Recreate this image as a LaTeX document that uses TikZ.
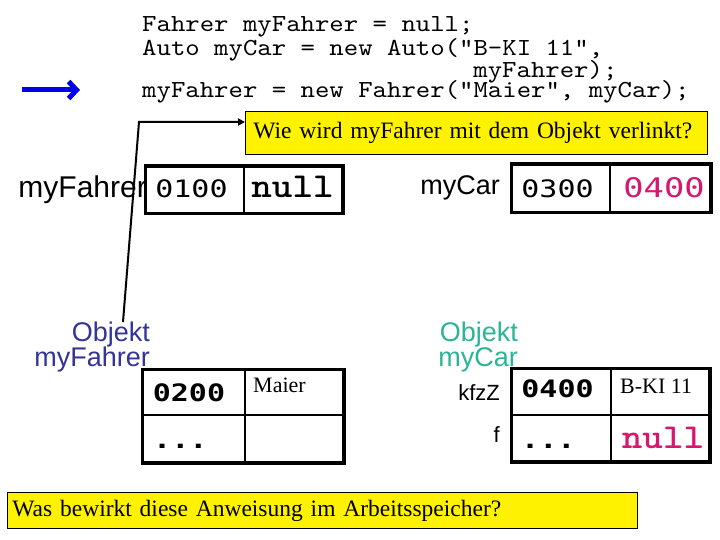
\documentclass[tikz,border=0pt]{standalone}
\usepackage{fontspec}
\setmainfont{Liberation Serif}
\newfontfamily\numfont[FakeStretch=1.25]{DejaVu Sans Mono}
\newfontfamily\labfont{Liberation Sans}
\newfontfamily\codefont[FakeStretch=1.12]{lmmono10-regular.otf}
\newfontfamily\nulfnt[FakeStretch=1.12]{lmmonolt10-bold.otf}
\usetikzlibrary{arrows.meta}
\definecolor{mag}{RGB}{214,24,110}
\definecolor{objblue}{RGB}{51,51,153}
\definecolor{objteal}{RGB}{43,181,150}
\definecolor{arrblue}{RGB}{0,0,235}
\begin{document}
\begin{tikzpicture}[x=1pt,y=-1pt,
  code/.style={anchor=base west, inner sep=0, font=\codefont\fontsize{24.5}{24.5}\selectfont},
  cell/.style={draw, line width=2pt, inner sep=0},
  outer/.style={draw, line width=3pt},
  num/.style={anchor=base, inner sep=0, font=\numfont\fontsize{24}{24}\selectfont},
  bnum/.style={anchor=base, inner sep=0, font=\numfont\bfseries\fontsize{24}{24}\selectfont},
  nul/.style={anchor=base, inner sep=0, text=mag, font=\nulfnt\fontsize{35}{35}\selectfont},
  lab/.style={anchor=mid east, inner sep=0, font=\labfont\fontsize{27}{27}\selectfont},
  small/.style={anchor=base west, inner sep=0, font=\fontsize{22}{22}\selectfont},
  question/.style={draw=black, line width=0.8pt, fill=yellow, anchor=north west, align=left, font=\fontsize{23.5}{23.5}\selectfont}
]
\useasboundingbox (0,0) rectangle (720,540);

% code
\node[code] (l1) at (142,32) {Fahrer myFahrer = null;};
\node[code] (l2) at (142,56) {Auto myCar = new Auto("B-KI 11",};
\node[code] (l3) at (473.2,78) {myFahrer);};
\node[code] (l4) at (142,98) {myFahrer = new Fahrer("Maier", myCar);};

% blue arrow
\coordinate (ba) at (22,90);
\coordinate (bb) at (80,90);
\draw[arrblue, line width=5pt, -{Straight Barb[length=8pt,width=17pt,line width=5pt]}] (ba) -- (bb);

% question 1
\node[question, text width=446, inner xsep=8, minimum height=43] (q1) at (245,111) {\makebox[446pt][l]{Wie wird myFahrer mit dem Objekt verlinkt?}};

% variable myFahrer
\node[cell, minimum width=98, minimum height=46] (a1) at (195,190) {};
\node[cell, minimum width=98, minimum height=46] (a2) at (293,190) {};
\draw[outer] (a1.north west) rectangle (a2.south east);
\node[num] (t0100) at (191.5,198) {0100};
\node[nul, text=black] (tnull1) at (292.5,198) {null};
\node[lab, font=\labfont\fontsize{30}{30}\selectfont] (lfahrer) at (147,195) {myFahrer};

% variable myCar
\node[cell, minimum width=98, minimum height=47] (b1) at (561,188.5) {};
\node[cell, minimum width=100, minimum height=47] (b2) at (660,188.5) {};
\draw[outer] (b1.north west) rectangle (b2.south east);
\node[num] (t0300) at (557.5,197) {0300};
\node[num, text=mag, font=\numfont\fontsize{27}{27}\selectfont] (t0400a) at (664,198) {0400};
\node[lab] (lcar) at (500,192) {myCar};

% object myFahrer
\node[lab, text=objblue] (of1) at (150,339) {Objekt};
\node[lab, text=objblue] (of2) at (150,364) {myFahrer};
\node[cell, minimum width=102, minimum height=45] (c11) at (194,392.5) {};
\node[cell, minimum width=98, minimum height=45] (c12) at (294,392.5) {};
\node[cell, minimum width=102, minimum height=47] (c21) at (194,438.5) {};
\node[cell, minimum width=98, minimum height=47] (c22) at (294,438.5) {};
\draw[outer] (c11.north west) rectangle (c22.south east);
\node[bnum] (t0200) at (189,401) {0200};
\node[small] (tmaier) at (253,392) {Maier};
\node[bnum, anchor=base west] (tdots1) at (153,448) {...};

% object myCar
\node[lab, text=objteal] (oc1) at (518,339) {Objekt};
\node[lab, text=objteal] (oc2) at (518,364) {myCar};
\node[cell, minimum width=99, minimum height=46] (d11) at (561.5,392) {};
\node[cell, minimum width=98, minimum height=46] (d12) at (660,392) {};
\node[cell, minimum width=99, minimum height=46] (d21) at (561.5,438) {};
\node[cell, minimum width=98, minimum height=46] (d22) at (660,438) {};
\draw[outer] (d11.north west) rectangle (d22.south east);
\node[bnum] (t0400b) at (557.5,397) {0400};
\node[small] (tbki) at (620,393) {B-KI 11};
\node[bnum, anchor=base west] (tdots2) at (521,448) {...};
\node[nul] (tnull2) at (663,448) {null};
\node[lab, font=\labfont\fontsize{22}{22}\selectfont] (lkfz) at (500,398) {kfzZ};
\node[lab, font=\labfont\fontsize{22}{22}\selectfont] (lf) at (500,440) {f};

% connector
\coordinate (c0) at (123,322);
\coordinate (cn) at (139,122);
\draw[line width=2pt, -{Triangle[length=7pt,width=7pt]}] (c0) -- (cn) -- (cn -| q1.west);

% question 2
\node[question, text width=620, inner xsep=5, minimum height=36] (q2) at (7,492) {\makebox[620pt][l]{Was bewirkt diese Anweisung im Arbeitsspeicher?}};
\end{tikzpicture}
\end{document}
